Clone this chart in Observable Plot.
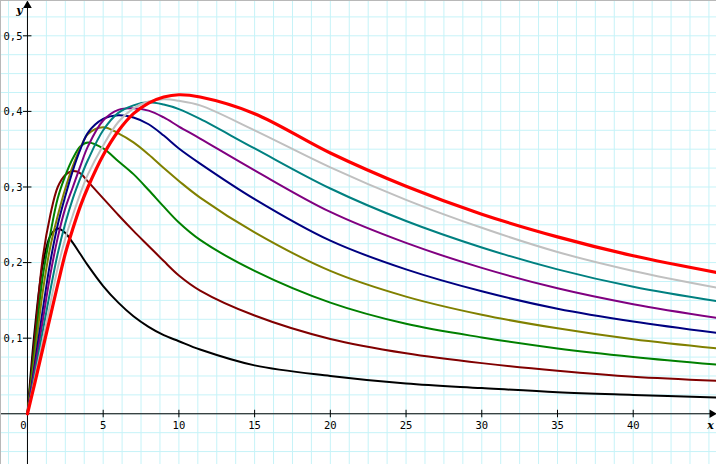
<!DOCTYPE html>
<html>
<head>
<meta charset="utf-8">
<script src="https://cdn.jsdelivr.net/npm/d3@7"></script>
<script src="https://cdn.jsdelivr.net/npm/@observablehq/plot@0.6"></script>
<style>
  html, body { margin: 0; padding: 0; background: #ffffff; }
  #chart svg { display: block; }
</style>
</head>
<body>
<div id="chart"></div>
<script>
// x positions at which the curves were read
const xs = [0, 0.5, 1, 1.5, 2, 2.5, 3, 3.5, 4, 5, 6, 7, 8, 9, 10, 11.4, 15, 20, 25, 30, 35, 40, 45.5];

// curve values
const curveBlack   = [0, 0.115, 0.196, 0.235, 0.245, 0.239, 0.226, 0.211, 0.196, 0.169, 0.147, 0.129, 0.115, 0.104, 0.096, 0.085, 0.064, 0.050, 0.040, 0.034, 0.0285, 0.025, 0.0216];
const curveMaroon  = [0, 0.104, 0.205, 0.262, 0.300, 0.316, 0.321, 0.318, 0.307, 0.285, 0.263, 0.242, 0.222, 0.202, 0.183, 0.163, 0.130, 0.099, 0.080, 0.067, 0.057, 0.049, 0.0437];
const curveGreen   = [0, 0.090, 0.180, 0.237, 0.285, 0.315, 0.338, 0.354, 0.359, 0.351, 0.334, 0.317, 0.296, 0.274, 0.253, 0.230, 0.189, 0.147, 0.119, 0.101, 0.0865, 0.0752, 0.065];
const curveOlive   = [0, 0.080, 0.160, 0.220, 0.262, 0.298, 0.328, 0.352, 0.370, 0.379, 0.371, 0.359, 0.343, 0.325, 0.308, 0.286, 0.240, 0.189, 0.155, 0.131, 0.113, 0.0985, 0.0865];
const curveNavy    = [0, 0.068, 0.136, 0.200, 0.250, 0.288, 0.322, 0.350, 0.372, 0.390, 0.395, 0.392, 0.383, 0.368, 0.351, 0.331, 0.284, 0.229, 0.191, 0.162, 0.139, 0.122, 0.107];
const curvePurple  = [0, 0.061, 0.122, 0.183, 0.233, 0.272, 0.300, 0.328, 0.354, 0.388, 0.402, 0.404, 0.401, 0.392, 0.380, 0.364, 0.322, 0.267, 0.226, 0.193, 0.166, 0.145, 0.127];
const curveTeal    = [0, 0.054, 0.108, 0.162, 0.212, 0.252, 0.285, 0.312, 0.336, 0.375, 0.398, 0.408, 0.412, 0.409, 0.403, 0.390, 0.351, 0.298, 0.255, 0.220, 0.191, 0.168, 0.149];
const curveSilver  = [0, 0.048, 0.096, 0.145, 0.193, 0.232, 0.263, 0.292, 0.317, 0.355, 0.386, 0.404, 0.413, 0.416, 0.414, 0.408, 0.375, 0.326, 0.283, 0.246, 0.214, 0.189, 0.167];
const curveRed     = [0, 0.042, 0.085, 0.128, 0.171, 0.212, 0.245, 0.275, 0.300, 0.342, 0.374, 0.397, 0.411, 0.419, 0.422, 0.419, 0.397, 0.345, 0.301, 0.264, 0.234, 0.209, 0.187];

const seriesNames  = ["black", "maroon", "green", "olive", "navy", "purple", "teal", "silver", "red"];
const seriesValues = [curveBlack, curveMaroon, curveGreen, curveOlive, curveNavy, curvePurple, curveTeal, curveSilver, curveRed];
const seriesColors = ["#000000", "#800000", "#008000", "#808000", "#000080", "#800080", "#008080", "#c0c0c0", "#ff0000"];

// tick values and labels
const xTickValues = [5, 10, 15, 20, 25, 30, 35, 40];
const xTickLabels = ["5", "10", "15", "20", "25", "30", "35", "40"];
const yTickValues = [0.1, 0.2, 0.3, 0.4, 0.5];
const yTickLabels = ["0,1", "0,2", "0,3", "0,4", "0,5"];

// ---- build table
const rows = [];
seriesValues.forEach((vals, i) => {
  vals.forEach((v, j) => rows.push({x: xs[j], y: v, s: seriesNames[i]}));
});

const W = 716, H = 464;
const X0 = -1.78, X1 = 45.5;
const Y0 = -0.0671, Y1 = 0.5467;
const dxPx = (X1 - X0) / W;   // data units per px (x)
const dyPx = (Y1 - Y0) / H;   // data units per px (y)

const gridX = d3.range(-1.25, 46, 1.25);
const gridY = d3.range(-0.05, 0.54, 0.025);

const xTicks = xTickValues.map((v, i) => ({v, label: xTickLabels[i]}));
const yTicks = yTickValues.map((v, i) => ({v, label: yTickLabels[i]}));

const mono = "'DejaVu Sans Mono', monospace";
const serif = "'DejaVu Serif', serif";

const thin = rows.filter(d => d.s !== "red");
const red = rows.filter(d => d.s === "red");

const chart = Plot.plot({
  width: W,
  height: H,
  marginTop: 0, marginRight: 0, marginBottom: 0, marginLeft: 0,
  x: {domain: [X0, X1], range: [0, W], axis: null},
  y: {domain: [Y0, Y1], range: [H, 0], axis: null},
  color: {domain: seriesNames, range: seriesColors},
  style: {background: "#ffffff"},
  marks: [
    Plot.ruleX(gridX, {x: d => d, stroke: "#c6f3f8", strokeWidth: 1}),
    Plot.ruleY(gridY, {y: d => d, stroke: "#c6f3f8", strokeWidth: 1}),
    // axes
    Plot.ruleY([0], {x1: X0, x2: X1 - 4 * dxPx, stroke: "#000", strokeWidth: 1}),
    Plot.ruleX([0], {y1: Y0, y2: Y1 - 4 * dyPx, stroke: "#000", strokeWidth: 1}),
    Plot.dot([{x: X1 - 4.5 * dxPx, y: 0}], {x: "x", y: "y", symbol: "triangle", r: 3.2, fill: "#000", stroke: "none", rotate: 90}),
    Plot.dot([{x: 0, y: Y1 - 5 * dyPx}], {x: "x", y: "y", symbol: "triangle", r: 3.2, fill: "#000", stroke: "none"}),
    // ticks
    Plot.ruleX(xTicks, {x: "v", y1: -4 * dyPx, y2: 3.5 * dyPx, stroke: "#000", strokeWidth: 1}),
    Plot.ruleY(yTicks, {y: "v", x1: -4 * dxPx, x2: 4.5 * dxPx, stroke: "#000", strokeWidth: 1}),
    // tick labels
    Plot.text(xTicks, {x: "v", y: 0, text: "label", dy: 12, fontFamily: mono, fontSize: 10.5, fill: "#000", textAnchor: "middle"}),
    Plot.text([{v: 0, label: "0"}], {x: "v", y: 0, text: "label", dy: 12, dx: -4, fontFamily: mono, fontSize: 10.5, fill: "#000", textAnchor: "middle"}),
    Plot.text(yTicks, {x: 0, y: "v", text: "label", dx: -5, dy: 0.5, fontFamily: mono, fontSize: 10.5, fill: "#000", textAnchor: "end"}),
    // axis names
    Plot.text(["x"], {x: X1, y: 0, text: d => d, dx: -6, dy: 12, fontFamily: serif, fontSize: 11, fontStyle: "italic", fontWeight: "bold", fill: "#000", textAnchor: "middle"}),
    Plot.text(["y"], {x: 0, y: Y1, text: d => d, dx: -8, dy: 10, fontFamily: serif, fontSize: 11, fontStyle: "italic", fontWeight: "bold", fill: "#000", textAnchor: "middle"}),
    // curves
    Plot.line(thin, {x: "x", y: "y", z: "s", stroke: "s", strokeWidth: 2, curve: "catmull-rom"}),
    Plot.line(red, {x: "x", y: "y", stroke: "s", strokeWidth: 3.2, curve: "catmull-rom"}),
    Plot.frame({stroke: "#b8b8b8", strokeWidth: 1})
  ]
});

document.getElementById("chart").appendChild(chart);
</script>
</body>
</html>
